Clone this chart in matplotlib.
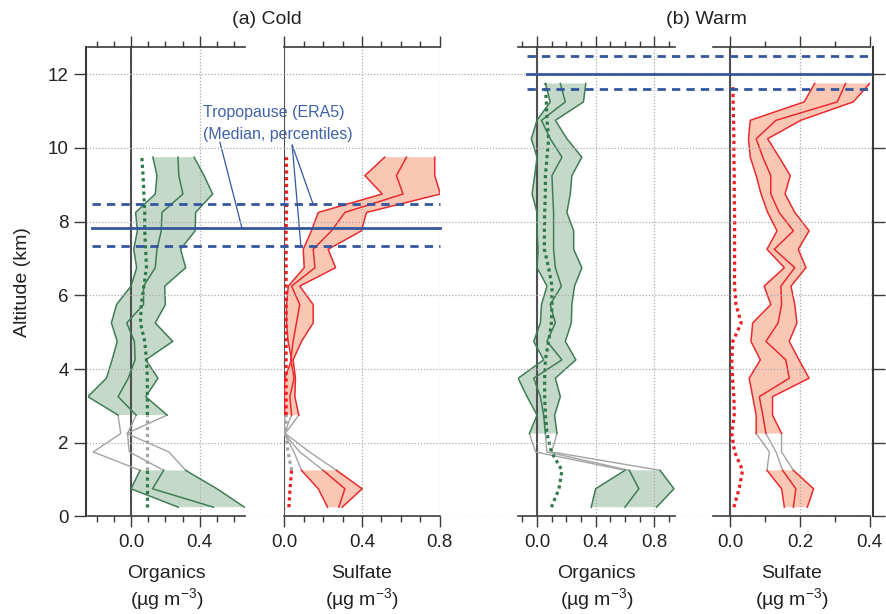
import numpy as np
import matplotlib
matplotlib.use("Agg")
import matplotlib.pyplot as plt
from matplotlib.ticker import MultipleLocator, FormatStrFormatter

plt.rcParams['font.family'] = ['Liberation Sans', 'DejaVu Sans']
plt.rcParams['mathtext.fontset'] = 'custom'
plt.rcParams['mathtext.rm'] = 'Liberation Sans'
plt.rcParams['mathtext.it'] = 'Liberation Sans:italic'

# ---------------- data (altitude bins, km; bottom -> top) ----------------
alt_cold = [0.25, 0.75, 1.25, 1.75, 2.25, 2.75, 3.25, 3.75, 4.25, 4.75,
            5.25, 5.75, 6.25, 6.75, 7.25, 7.75, 8.25, 8.75, 9.25, 9.75]
alt_warm = [0.25, 0.75, 1.25, 1.75, 2.25, 2.75, 3.25, 3.75, 4.25, 4.75,
            5.25, 5.75, 6.25, 6.75, 7.25, 7.75, 8.25, 8.75, 9.25, 9.75,
            10.25, 10.75, 11.25, 11.75]

# gap (no-shading) altitude ranges
gap_cold = (1.25, 2.75)
gap_warm = (1.25, 2.25)

# Cold - Organics (ug m-3): 25th, median, 75th percentiles, dotted profile
cold_org_p25 = [0.275, 0.0, 0.053, -0.22, -0.06, -0.075, -0.251, -0.143, -0.110, -0.080,
                -0.114, -0.084, 0.0, 0.033, 0.016, 0.037, 0.027, 0.141, 0.151, 0.127]
cold_org_p50 = [0.48, 0.125, 0.19, -0.01, -0.02, 0.03, -0.075, -0.016, 0.024, 0.02,
                -0.025, 0.073, 0.073, 0.141, 0.151, 0.176, 0.18, 0.302, 0.278, 0.273]
cold_org_p75 = [0.66, 0.50, 0.318, 0.22, -0.025, 0.21, 0.086, 0.157, 0.086, 0.243,
                0.141, 0.2, 0.196, 0.318, 0.288, 0.373, 0.376, 0.475, 0.425, 0.367]
cold_org_dot = [0.095, 0.095, 0.095, 0.095, 0.095, 0.095, 0.095, 0.095, 0.09, 0.08,
                0.055, 0.06, 0.075, 0.09, 0.085, 0.08, 0.08, 0.075, 0.07, 0.063]

# Cold - Sulfate
cold_sul_p25 = [0.223, 0.175, 0.089, 0.05, 0.0, 0.003, 0.0, 0.003, 0.038, 0.02,
                0.012, 0.012, 0.021, 0.103, 0.098, 0.14, 0.175, 0.504, 0.415, 0.517]
cold_sul_p50 = [0.281, 0.312, 0.2, 0.08, 0.0, 0.038, 0.029, 0.051, 0.034, 0.046,
                0.063, 0.08, 0.038, 0.158, 0.149, 0.243, 0.312, 0.611, 0.577, 0.629]
cold_sul_p75 = [0.298, 0.401, 0.269, 0.13, 0.005, 0.075, 0.055, 0.058, 0.046, 0.089,
                0.149, 0.149, 0.08, 0.264, 0.226, 0.397, 0.423, 0.803, 0.774, 0.774]
cold_sul_dot = [0.024, 0.03, 0.038, 0.02, 0.008, 0.01, 0.01, 0.01, 0.01, 0.01,
                0.01, 0.01, 0.01, 0.01, 0.01, 0.01, 0.012, 0.012, 0.012, 0.012]

# Warm - Organics
warm_org_p25 = [0.37, 0.40, 0.60, -0.01, -0.052, 0.0, -0.068, -0.129, 0.045, -0.023,
                0.023, 0.03, 0.068, 0.0, 0.007, 0.0, 0.0, -0.034, -0.016, 0.0,
                -0.039, 0.0, 0.09, 0.057]
warm_org_p50 = [0.60, 0.695, 0.63, 0.067, 0.057, 0.045, 0.023, -0.023, 0.17, 0.068,
                0.125, 0.09, 0.166, 0.125, 0.113, 0.113, 0.113, 0.107, 0.102, 0.17,
                0.09, 0.03, 0.193, 0.159]
warm_org_p75 = [0.816, 0.935, 0.84, 0.10, 0.136, 0.12, 0.159, 0.125, 0.265, 0.193,
                0.234, 0.238, 0.256, 0.306, 0.25, 0.25, 0.204, 0.227, 0.238, 0.306,
                0.204, 0.125, 0.317, 0.333]
warm_org_dot = [0.098, 0.15, 0.17, 0.098, 0.068, 0.057, 0.052, 0.052, 0.057, 0.079,
                0.098, 0.102, 0.102, 0.079, 0.05, 0.05, 0.052, 0.057, 0.057, 0.068,
                0.079, 0.068, 0.063, 0.057]

# Warm - Sulfate
warm_sul_p25 = [0.155, 0.147, 0.105, 0.112, 0.074, 0.074, 0.064, 0.054, 0.086, 0.059,
                0.064, 0.116, 0.097, 0.155, 0.105, 0.134, 0.107, 0.088, 0.074, 0.057,
                0.052, 0.057, 0.212, 0.242]
warm_sul_p50 = [0.181, 0.188, 0.15, 0.131, 0.102, 0.093, 0.083, 0.169, 0.159, 0.102,
                0.137, 0.147, 0.145, 0.185, 0.126, 0.181, 0.14, 0.116, 0.116, 0.093,
                0.074, 0.131, 0.307, 0.331]
warm_sul_p75 = [0.221, 0.239, 0.181, 0.147, 0.147, 0.121, 0.121, 0.226, 0.197, 0.169,
                0.191, 0.185, 0.174, 0.217, 0.195, 0.226, 0.185, 0.157, 0.172, 0.14,
                0.107, 0.202, 0.353, 0.40]
warm_sul_dot = [0.01, 0.025, 0.035, 0.012, 0.004, 0.011, 0.01, 0.006, 0.004, 0.007,
                0.031, 0.016, 0.012, 0.012, 0.012, 0.012, 0.012, 0.011, 0.011, 0.01,
                0.01, 0.009, 0.008, 0.007]

# Tropopause (ERA5): lower percentile, median, upper percentile (km)
trop_cold = [7.33, 7.83, 8.47]
trop_warm = [11.59, 12.0, 12.50]

# ---------------- styling ----------------
GREEN_LINE = '#3f7d56'
GREEN_FILL = '#c5d9cb'
GREEN_DOT = '#2e7a4b'
RED_LINE = '#ea2a2e'
RED_FILL = '#f9c7b4'
RED_DOT = '#ee1c24'
GRAY = '#a3a3a3'
BLUE = '#34569f'
BLUE_TXT = '#3f62a8'
AXC = '#3a3a3a'
DOT = (0, (1, 1.1))

W, H = 887, 614
fig = plt.figure(figsize=(W / 100, H / 100), dpi=100)


def fx(px):
    return px / W


def fy(py):
    return 1 - py / H


Y_TOP, Y_BOT = 47.0, 516.4
YLIM = (0, 12.74)
X_L, X_R = 86.0, 873.0

TS = 13.5   # tick label size
LS = 14.0   # axis label size

panels = {}
specs = [
    ('co', (88, 245), (-0.25, 0.663), 0.4),
    ('cs', (284, 440), (-0.001, 0.801), 0.4),
    ('wo', (518, 675), (-0.13, 0.942), 0.4),
    ('ws', (713, 870), (-0.05, 0.401), 0.2),
]
for name, (p0, p1), xl, maj in specs:
    ax = fig.add_axes([fx(p0), fy(Y_BOT), fx(p1) - fx(p0), fy(Y_TOP) - fy(Y_BOT)])
    ax.patch.set_visible(False)
    ax.set_xlim(*xl)
    ax.set_ylim(*YLIM)
    for s in ('left', 'right'):
        ax.spines[s].set_visible(False)
    for s in ('top', 'bottom'):
        ax.spines[s].set_color(AXC)
        ax.spines[s].set_linewidth(1.2)
    ax.xaxis.set_major_locator(MultipleLocator(maj))
    ax.xaxis.set_minor_locator(MultipleLocator(0.1))
    ax.xaxis.set_major_formatter(FormatStrFormatter('%.1f'))
    ax.tick_params(axis='x', which='both', top=True, bottom=True, direction='out',
                   colors=AXC, width=1.0, labelsize=TS, labelcolor='#222222')
    ax.tick_params(axis='x', which='major', length=8, pad=5)
    ax.tick_params(axis='x', which='minor', length=4)
    ax.tick_params(axis='y', left=False, right=False, labelleft=False)
    ax.grid(axis='x', which='major', ls=(0, (1, 1.5)), color='#aaaaaa', lw=0.9, zorder=0.5)
    ax.axvline(0, color='#505050', lw=1.5, zorder=1.6)
    panels[name] = ax


def draw_profile(ax, alt, p25, p50, p75, dot, gap, line_c, fill_c, dot_c, gray_gap_dot):
    alt = np.asarray(alt, float)
    p25, p50, p75, dot = (np.asarray(a, float) for a in (p25, p50, p75, dot))
    eps = 1e-9
    lo = alt <= gap[0] + eps
    hi = alt >= gap[1] - eps
    mid = (alt >= gap[0] - eps) & (alt <= gap[1] + eps)
    for m in (lo, hi):
        ax.fill_betweenx(alt[m], p25[m], p75[m], facecolor=fill_c, edgecolor='none', zorder=1)
    for arr in (p25, p50, p75):
        ax.plot(arr[mid], alt[mid], color=GRAY, lw=1.0, zorder=2)
        for m in (lo, hi):
            ax.plot(arr[m], alt[m], color=line_c, lw=1.1, zorder=3)
    if gray_gap_dot:
        ax.plot(dot[mid], alt[mid], color=GRAY, ls=DOT, lw=2.3, zorder=4)
        for m in (lo, hi):
            ax.plot(dot[m], alt[m], color=dot_c, ls=DOT, lw=2.3, zorder=4)
    else:
        ax.plot(dot, alt, color=dot_c, ls=DOT, lw=2.3, zorder=4)


draw_profile(panels['co'], alt_cold, cold_org_p25, cold_org_p50, cold_org_p75, cold_org_dot,
             gap_cold, GREEN_LINE, GREEN_FILL, GREEN_DOT, True)
draw_profile(panels['cs'], alt_cold, cold_sul_p25, cold_sul_p50, cold_sul_p75, cold_sul_dot,
             gap_cold, RED_LINE, RED_FILL, RED_DOT, True)
draw_profile(panels['wo'], alt_warm, warm_org_p25, warm_org_p50, warm_org_p75, warm_org_dot,
             gap_warm, GREEN_LINE, GREEN_FILL, GREEN_DOT, False)
draw_profile(panels['ws'], alt_warm, warm_sul_p25, warm_sul_p50, warm_sul_p75, warm_sul_dot,
             gap_warm, RED_LINE, RED_FILL, RED_DOT, False)

# ---------------- frame axes (altitude axis, horizontal grid, tropopause) ----------------
ax0 = fig.add_axes([fx(X_L), fy(Y_BOT), fx(X_R) - fx(X_L), fy(Y_TOP) - fy(Y_BOT)])
ax0.set_zorder(5)
ax0.patch.set_visible(False)
ax0.set_xlim(0, 1)
ax0.set_ylim(*YLIM)
ax0.spines['top'].set_visible(False)
ax0.spines['bottom'].set_visible(False)
for s in ('left', 'right'):
    ax0.spines[s].set_color(AXC)
    ax0.spines[s].set_linewidth(1.5)
ax0.yaxis.set_major_locator(MultipleLocator(2))
ax0.tick_params(axis='x', bottom=False, labelbottom=False)
ax0.tick_params(axis='y', left=True, right=True, direction='out', length=8.5, width=1.0,
                colors=AXC, labelsize=TS, labelcolor='#222222', pad=4)
ax0.grid(axis='y', ls=(0, (1, 1.5)), color='#aaaaaa', lw=0.9)
ax0.set_ylabel('Altitude (km)', fontsize=LS, labelpad=12, color='#222222')


def frac(px):
    return (px - X_L) / (X_R - X_L)


cold_x = (frac(92), frac(440))
warm_x = (frac(527), frac(870))
for i, v in enumerate(trop_cold):
    ax0.axhline(v, xmin=cold_x[0], xmax=cold_x[1], color=BLUE, lw=2.0,
                ls='-' if i == 1 else (0, (3, 2.2)), zorder=6)
for i, v in enumerate(trop_warm):
    ax0.axhline(v, xmin=warm_x[0], xmax=warm_x[1], color=BLUE, lw=2.0,
                ls='-' if i == 1 else (0, (3, 2.2)), zorder=6)

# annotation text + leader lines
co, cs = panels['co'], panels['cs']
co.text(0.419, 10.83, 'Tropopause (ERA5)', color=BLUE_TXT, fontsize=11.5, va='baseline', zorder=7)
co.text(0.419, 10.23, '(Median, percentiles)', color=BLUE_TXT, fontsize=11.5, va='baseline', zorder=7)
co.annotate('', xy=(0.645, trop_cold[1]), xytext=(0.517, 10.16),
            arrowprops=dict(arrowstyle='-', color=BLUE, lw=0.9, shrinkA=0, shrinkB=0),
            annotation_clip=False)
for yv, xv in ((trop_cold[2], 0.149), (trop_cold[0], 0.086)):
    cs.annotate('', xy=(xv, yv), xytext=(0.041, 10.08),
                arrowprops=dict(arrowstyle='-', color=BLUE, lw=0.9, shrinkA=0, shrinkB=0),
                annotation_clip=False)

# titles
fig.text(fx(267), fy(20), '(a) Cold', ha='center', va='center', fontsize=LS, color='#222222')
fig.text(fx(706), fy(20), '(b) Warm', ha='center', va='center', fontsize=LS, color='#222222')

# x labels
names = {'co': 'Organics', 'cs': 'Sulfate', 'wo': 'Organics', 'ws': 'Sulfate'}
for name, (p0, p1), xl, maj in specs:
    cx = fx((p0 + p1) / 2)
    fig.text(cx, fy(578), names[name], ha='center', va='baseline', fontsize=LS, color='#222222')
    fig.text(cx, fy(605), r'(µg m$^{\mathrm{-3}}$)', ha='center', va='baseline',
             fontsize=LS, color='#222222')

fig.savefig('out.png', dpi=100)
